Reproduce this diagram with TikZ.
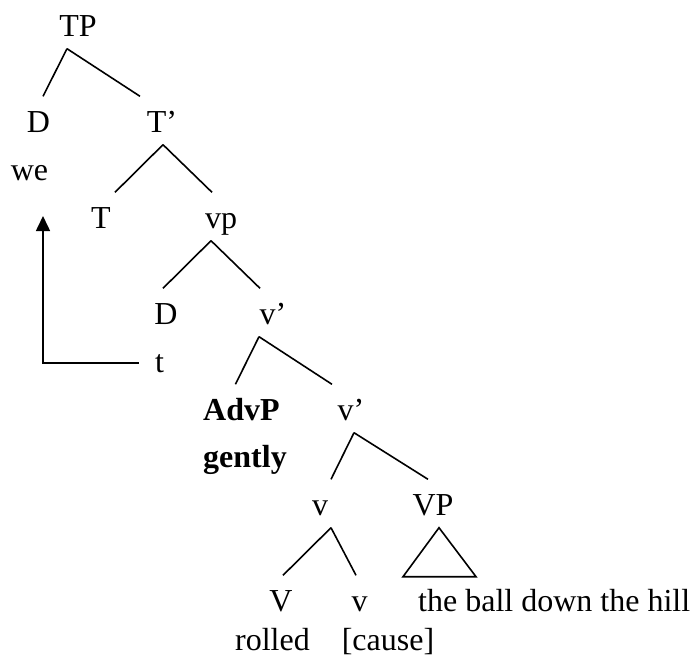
\documentclass[tikz,border=0pt]{standalone}
\usepackage{fontspec}
\setmainfont{Liberation Serif}
\usetikzlibrary{arrows.meta}

\tikzset{
  cat/.style={anchor=base, text height=23pt, text depth=0pt, inner xsep=0pt, inner ysep=12.5pt},
  word/.style={anchor=base, inner sep=0pt},
  branch/.style={line width=1.6pt},
  move/.style={line width=1.6pt, -{Triangle[width=14pt,length=15pt]}}
}

\begin{document}
\begin{tikzpicture}[x=1pt, y=-1pt, every node/.style={font=\fontsize{32}{38}\selectfont}]
      \useasboundingbox (0,0) rectangle (692,664);

      % TP and T' level
      \node[cat] (tp) at (78,36) {TP};
      \node[cat] (d1) at (38.5,132) {D};
      \node[cat] (tbar) at (162,132) {T’};
      \node[word] (we) at (29.5,180) {we};
      \node[cat] (t1) at (101,228) {T};
      \node[cat] (vp) at (221,228) {vp};

      % little v shell
      \node[cat] (d2) at (166,324) {D};
      \node[cat] (vbar1) at (273,324) {v’};
      \node[word] (trace) at (159.5,372) {t};
      \node[cat,anchor=base west] (advp) at (203,420) {\bfseries AdvP};
      \node[word,anchor=base west] (gently) at (203,467) {\bfseries gently};
      \node[cat] (vbar2) at (351,420) {v’};
      \node[cat] (v1) at (320,515) {v};
      \node[cat] (vpn) at (433,515) {VP};

      % head complex and complement
      \node[cat] (vv) at (281,611) {V};
      \node[cat] (v2) at (359.5,611) {v};
      \node[word,anchor=base west] (ball) at (418,611) {the ball down the hill};
      \node[word] (rolled) at (272.5,650) {rolled};
      \node[word] (cause) at (388,650) {[cause]};

      % branches: mother/shift/daughter/shift
      \foreach \m/\ms/\d/\ds in {tp/-11/d1/4.5, tp/-11/tbar/-22,
          tbar/1/t1/14, tbar/1/vp/-9, vp/-10/d2/-3, vp/-10/vbar1/-13,
          vbar1/-14/advp/-6, vbar1/-14/vbar2/-19, vbar2/3/v1/11,
          vbar2/3/vpn/-5, v1/11/vv/2, v1/11/v2/-3.5}{
        \draw[branch] ([xshift=\ms pt]\m.south) -- ([xshift=\ds pt]\d.north);
      }

      % roof over the VP
      \draw[branch] ([xshift=6pt]vpn.south) -- ++(-36,49) -- ++(73,0) -- cycle;

      % movement of the subject
      \coordinate (landing) at (43,216);
      \draw[move] ([xshift=-16pt]trace.west) -| (landing);
    \end{tikzpicture}
\end{document}
